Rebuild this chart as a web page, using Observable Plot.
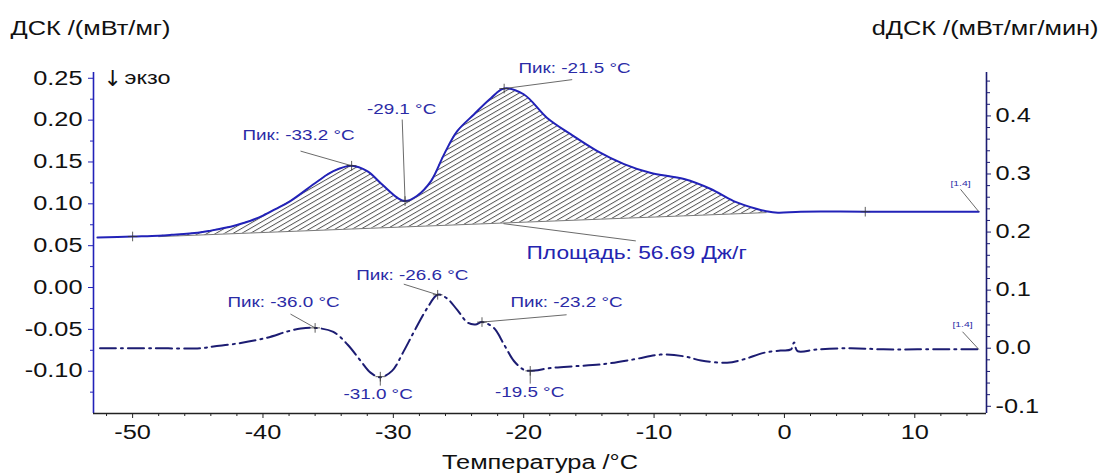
<!DOCTYPE html>
<html><head><meta charset="utf-8">
<script src="https://cdn.jsdelivr.net/npm/d3@7"></script>
<script src="https://cdn.jsdelivr.net/npm/@observablehq/plot@0.6"></script>
<style>body{margin:0;background:#fff} #chart svg{display:block}</style>
</head><body><div id="chart"></div>
<script>
// ДСК curve (mW/mg) vs temperature (°C)
const dscTemp = [-52.7,-50,-48,-47,-45,-44,-43,-42,-41,-40,-39,-37.9,-35.8,-34.6,-33.2,-32.0,-30.9,-29.7,-29.1,-28.2,-27.1,-26.1,-25.1,-23.8,-22.5,-21.5,-20.0,-18.2,-16.4,-14.35,-12.3,-10.3,-7.7,-5.65,-3.9,-2.1,-1.4,-0.5,1.25,6.2,14.9];
const dscVal  = [0.0597,0.061,0.062,0.063,0.0655,0.068,0.071,0.0748,0.0795,0.086,0.094,0.1033,0.127,0.139,0.1455,0.139,0.1236,0.1073,0.1033,0.1093,0.1275,0.1594,0.1868,0.2071,0.2265,0.2377,0.2309,0.2026,0.1832,0.163,0.1475,0.1371,0.1296,0.1177,0.1033,0.0938,0.0912,0.0894,0.0906,0.0906,0.0906];
// integration baseline read under the hatched area (null = no hatching)
const baseVal = [null,null,0.0608,0.0614,0.0626,0.0632,0.0639,0.0645,0.0651,0.0657,0.0663,0.0670,0.0683,0.0690,0.0699,0.0706,0.0713,0.0720,0.0724,0.0730,0.0737,0.0743,0.0749,0.0757,0.0765,0.0771,0.0780,0.0791,0.0803,0.0815,0.0828,0.0840,0.0856,0.0869,0.0879,0.0890,0.0895,null,null,null,null];
// dДСК curve (mW/mg/min)
const ddscTemp = [-52.5,-48.6,-44.8,-43.8,-41.7,-39.7,-38.1,-37.1,-36.0,-34.6,-33.5,-32.5,-31.75,-31.0,-30.1,-29.2,-28.4,-27.4,-26.6,-25.9,-25.1,-24.3,-23.7,-23.2,-22.3,-21.5,-20.75,-20.0,-19.5,-17.9,-16.1,-14.1,-11.5,-9.5,-7.7,-6.4,-4.4,-3.1,-1.6,-0.3,0.5,0.74,1.0,2.5,5.1,7.6,10.2,14.9];
const ddscVal  = [0.000,0.000,0.000,0.003,0.009,0.018,0.029,0.034,0.035,0.028,0.006,-0.022,-0.042,-0.050,-0.039,-0.005,0.029,0.069,0.092,0.086,0.066,0.044,0.041,0.045,0.035,0.006,-0.022,-0.037,-0.039,-0.034,-0.031,-0.028,-0.019,-0.011,-0.014,-0.021,-0.025,-0.019,-0.008,-0.004,-0.002,0.010,-0.005,-0.002,0.000,-0.002,-0.002,-0.002];

// axes ticks
const xTicks = [-50,-40,-30,-20,-10,0,10];
const xMinor = [-52,-48,-46,-44,-42,-38,-36,-34,-32,-28,-26,-24,-22,-18,-16,-14,-12,-8,-6,-4,-2,2,4,6,8,12,14];
const leftTicks = [-0.10,-0.05,0.00,0.05,0.10,0.15,0.20,0.25];
const leftMinor = [-0.125,-0.075,-0.025,0.025,0.075,0.125,0.175,0.225];
const rightTicks = [-0.1,0.0,0.1,0.2,0.3,0.4];
const rightMinor = [-0.08,-0.06,-0.04,-0.02,0.02,0.04,0.06,0.08,0.12,0.14,0.16,0.18,0.22,0.24,0.26,0.28,0.32,0.34,0.36,0.38,0.42,0.44,0.46];

// annotations on ДСК curve (left units)
const dscAnnText = ["Пик: -33.2 °C","-29.1 °C","Пик: -21.5 °C"];
const dscAnnPt   = [[-33.2,0.1455],[-29.1,0.1033],[-21.5,0.2377]];
const dscAnnLead = [[-37.12,0.163],[-29.32,0.2007],[-16.28,0.2484]];
const dscAnnPos  = [[-37.27,0.182],[-29.37,0.213],[-16.1,0.2619]];
const dscCross   = [[-50,0.061],[-33.2,0.1455],[-29.1,0.1033],[-21.5,0.2377],[6.2,0.0906]];
// annotations on dДСК curve (right units)
const ddAnnText = ["Пик: -36.0 °C","-31.0 °C","Пик: -26.6 °C","Пик: -23.2 °C","-19.5 °C","[1.4]"];
const ddAnnPt   = [[-36.0,0.035],[-31.0,-0.049],[-26.6,0.092],[-23.2,0.045],[-19.5,-0.039],[14.91,-0.002]];
const ddAnnLead = [[-37.89,0.0588],[-31.0,-0.0644],[-29.2,0.1103],[-16.71,0.0576],[-19.5,-0.061],[13.66,0.0284]];
const ddAnnPos  = [[-38.42,0.0782],[-31.17,-0.0799],[-28.55,0.1263],[-16.71,0.0782],[-19.55,-0.0765],[13.66,0.0404]];
const ddCross   = [[-36.0,0.035],[-31.0,-0.049],[-26.6,0.092],[-23.2,0.045],[-19.5,-0.039]];
// other texts
const areaText = "Площадь: 56.69 Дж/г";
const areaPos = [-11.34,0.0402], areaLead = [[-21.55,0.0763],[-11.4,0.0557]];
const endText = "[1.4]";
const endPos = [13.51,0.1248], endLead = [[13.51,0.1173],[14.91,0.0906]];

// right axis -> left axis units
const R2L = r => -0.0725 + 0.6938 * r;
const L2R = l => (l + 0.0725) / 0.6938;

const X0 = -53, X1 = 15.5, Y0 = -0.1505, Y1 = 0.2569;
const dsc = dscTemp.map((t,i) => ({t, v: dscVal[i], b: baseVal[i]}));
const hatch = dsc.filter(d => d.b != null);
const ddsc = ddscTemp.map((t,i) => ({t, v: R2L(ddscVal[i])}));
const ddAnn = ddAnnText.map((s,i) => ({s, px: ddAnnPt[i][0], py: R2L(ddAnnPt[i][1]), lx: ddAnnLead[i][0], ly: R2L(ddAnnLead[i][1]), tx: ddAnnPos[i][0], ty: R2L(ddAnnPos[i][1])}));
const dAnn = dscAnnText.map((s,i) => ({s, px: dscAnnPt[i][0], py: dscAnnPt[i][1], lx: dscAnnLead[i][0], ly: dscAnnLead[i][1], tx: dscAnnPos[i][0], ty: dscAnnPos[i][1]}));
const crosses = dscCross.map(([t,v]) => ({t,v})).concat(ddCross.map(([t,r]) => ({t, v: R2L(r)})));

const BLUE = "#2222b8", NAVY = "#1c1c72", LBL = "#2b2ba6", LEAD = "#444";
const FONT = "'Liberation Sans', Arial, sans-serif";
const FS = 19.5;

const plot = Plot.plot({
  width: 1104, height: 473,
  marginLeft: 93, marginRight: 118, marginTop: 72, marginBottom: 60,
  x: {domain: [X0, X1]},
  y: {domain: [Y0, Y1]},
  style: {fontFamily: FONT, fontSize: FS + "px", color: "#111", background: "white", overflow: "visible"},
  marks: [
    Plot.areaY(hatch, {x: "t", y1: "b", y2: "v", fill: "url(#hatch)", curve: "catmull-rom"}),
    Plot.line(hatch.filter((d,i) => i === 0 || i === hatch.length - 1), {x: "t", y: "b", stroke: "#555", strokeWidth: 0.8}),
    Plot.line(dsc, {x: "t", y: "v", stroke: BLUE, strokeWidth: 2, curve: "catmull-rom"}),
    Plot.line(ddsc, {x: "t", y: "v", stroke: NAVY, strokeWidth: 2, strokeDasharray: "16,5,2,5", curve: "catmull-rom"}),
    // axis lines
    Plot.ruleX([X0], {y1: Y0, y2: Y1, stroke: BLUE, strokeWidth: 1.6}),
    Plot.ruleX([X1], {y1: Y0, y2: Y1, stroke: NAVY, strokeWidth: 1.6}),
    Plot.ruleY([Y0], {x1: X0, x2: X1, stroke: "#222", strokeWidth: 1.4}),
    // axes
    Plot.axisX(xTicks, {anchor: "bottom", tickSize: 5, tickPadding: 7, tickFormat: d => String(d), stroke: "#222", fill: "#111", fontSize: FS, label: null}),
    Plot.axisX(xMinor, {anchor: "bottom", tickSize: 3, tickFormat: () => "", stroke: "#222", label: null}),
    Plot.axisY(leftTicks, {anchor: "left", tickSize: 5, tickPadding: 6, tickFormat: d => d.toFixed(2), stroke: BLUE, fill: "#111", fontSize: FS, label: null}),
    Plot.axisY(leftMinor, {anchor: "left", tickSize: 3, tickFormat: () => "", stroke: BLUE, label: null}),
    Plot.axisY(rightTicks.map(R2L), {anchor: "right", tickSize: 4, tickPadding: 5, tickFormat: d => L2R(d).toFixed(1), stroke: NAVY, fill: "#111", fontSize: FS, label: null}),
    Plot.axisY(rightMinor.map(R2L), {anchor: "right", tickSize: 3, tickFormat: () => "", stroke: NAVY, label: null}),
    // leaders
    Plot.link(dAnn, {x1: "lx", y1: "ly", x2: "px", y2: "py", stroke: LEAD, strokeWidth: 0.8}),
    Plot.link(ddAnn, {x1: "lx", y1: "ly", x2: "px", y2: "py", stroke: LEAD, strokeWidth: 0.8}),
    Plot.link([areaLead], {x1: d => d[0][0], y1: d => d[0][1], x2: d => d[1][0], y2: d => d[1][1], stroke: LEAD, strokeWidth: 0.8}),
    Plot.link([endLead], {x1: d => d[0][0], y1: d => d[0][1], x2: d => d[1][0], y2: d => d[1][1], stroke: LEAD, strokeWidth: 0.8}),
    Plot.dot(crosses, {x: "t", y: "v", symbol: "plus", r: 3.2, stroke: "#333", strokeWidth: 0.8}),
    // labels
    Plot.text(dAnn, {x: "tx", y: "ty", text: "s", fill: LBL, fontSize: 14.5}),
    Plot.text(ddAnn.slice(0,5), {x: "tx", y: "ty", text: "s", fill: LBL, fontSize: 14.5}),
    Plot.text(ddAnn.slice(5), {x: "tx", y: "ty", text: "s", fill: LBL, fontSize: 8}),
    Plot.text([endText], {x: endPos[0], y: endPos[1], fill: LBL, fontSize: 8}),
    Plot.text([areaText], {x: areaPos[0], y: areaPos[1], fill: "#2424b0", fontSize: 17.5}),
    Plot.text(["↓"], {frameAnchor: "top-left", dx: 10, dy: 6, textAnchor: "start", lineAnchor: "middle", fill: "#111", fontSize: 22, fontFamily: "DejaVu Sans"}),
    Plot.text(["экзо"], {frameAnchor: "top-left", dx: 31, dy: 6, textAnchor: "start", lineAnchor: "middle", fill: "#111", fontSize: 18}),
    // titles
    Plot.text(["ДСК /(мВт/мг)"], {frameAnchor: "top-left", dx: -83, dy: -44, textAnchor: "start", lineAnchor: "middle", fill: "#111", fontSize: FS}),
    Plot.text(["dДСК /(мВт/мг/мин)"], {frameAnchor: "top-right", dx: 112, dy: -44, textAnchor: "end", lineAnchor: "middle", fill: "#111", fontSize: FS}),
    Plot.text(["Температура /°C"], {frameAnchor: "bottom", dy: 49, lineAnchor: "middle", fill: "#111", fontSize: FS})
  ]
});

const svgNS = "http://www.w3.org/2000/svg";
const defs = document.createElementNS(svgNS, "defs");
defs.innerHTML = '<pattern id="hatch" width="8" height="4.3" patternUnits="userSpaceOnUse" patternTransform="rotate(-30)"><line x1="0" y1="0.5" x2="8" y2="0.5" stroke="#4a4a4a" stroke-width="0.9"/></pattern>';
plot.insertBefore(defs, plot.firstChild);
document.getElementById("chart").appendChild(plot);

// the reference's type is horizontally stretched
const K = 1.3;
plot.querySelectorAll("text").forEach(t => {
  if (!t.textContent || t.textContent === "↓") return;
  const w = t.getComputedTextLength();
  if (w > 0) { t.setAttribute("textLength", (w * K).toFixed(2)); t.setAttribute("lengthAdjust", "spacingAndGlyphs"); }
});
</script></body></html>
